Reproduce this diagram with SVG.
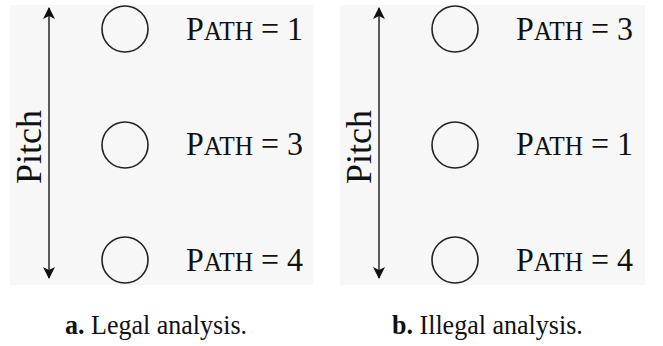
<svg xmlns="http://www.w3.org/2000/svg" width="663" height="346" viewBox="0 0 663 346">
<style>
.panel{fill:#f7f7f7;stroke:none}
.node{fill:none;stroke:#222;stroke-width:1.6}
.axis{stroke:#333;stroke-width:1.6;fill:none}
.lbl{font-family:"Liberation Serif","Times New Roman",serif;font-size:34px;fill:#111}
.sc{font-size:27px}
.pitch{font-family:"Liberation Serif","Times New Roman",serif;font-size:36px;fill:#111}
.cap{font-family:"Liberation Serif","Times New Roman",serif;font-size:28px;fill:#111}
</style>
<defs>
<marker id="ah" viewBox="0 0 12 12" refX="11" refY="6" markerWidth="12" markerHeight="12" markerUnits="userSpaceOnUse" orient="auto-start-reverse">
<path d="M0,0 L12,6 L0,12 L3,6 Z" fill="#111"/>
</marker>
</defs>
<rect width="663" height="346" fill="#fff"/>
<rect class="panel" x="10" y="5" width="303" height="280"/>
<rect class="panel" x="340" y="5" width="305" height="280"/>
<g id="connectors">
<line class="axis" x1="49" y1="8" x2="49" y2="278" marker-start="url(#ah)" marker-end="url(#ah)"/>
<line class="axis" x1="379" y1="8" x2="379" y2="278" marker-start="url(#ah)" marker-end="url(#ah)"/>
</g>
<g id="pitch-a"><text class="pitch" transform="translate(41,147) rotate(-90)" text-anchor="middle">Pitch</text></g>
<g id="pitch-b"><text class="pitch" transform="translate(371,147) rotate(-90)" text-anchor="middle">Pitch</text></g>
<g id="a1"><circle class="node" cx="125" cy="29" r="23"/><text class="lbl" transform="translate(186,40) scale(0.94,1)">P<tspan class="sc">ATH</tspan> = 1</text></g>
<g id="a2"><circle class="node" cx="125" cy="145" r="23"/><text class="lbl" transform="translate(186,155) scale(0.94,1)">P<tspan class="sc">ATH</tspan> = 3</text></g>
<g id="a3"><circle class="node" cx="125" cy="260" r="23"/><text class="lbl" transform="translate(186,271) scale(0.94,1)">P<tspan class="sc">ATH</tspan> = 4</text></g>
<g id="b1"><circle class="node" cx="455" cy="29" r="23"/><text class="lbl" transform="translate(516,40) scale(0.94,1)">P<tspan class="sc">ATH</tspan> = 3</text></g>
<g id="b2"><circle class="node" cx="455" cy="145" r="23"/><text class="lbl" transform="translate(516,155) scale(0.94,1)">P<tspan class="sc">ATH</tspan> = 1</text></g>
<g id="b3"><circle class="node" cx="455" cy="260" r="23"/><text class="lbl" transform="translate(516,271) scale(0.94,1)">P<tspan class="sc">ATH</tspan> = 4</text></g>
<g id="caption-a"><text class="cap" transform="translate(65,334) scale(0.93,1)"><tspan font-weight="bold">a.</tspan> Legal analysis.</text></g>
<g id="caption-b"><text class="cap" transform="translate(392,334) scale(0.93,1)"><tspan font-weight="bold">b.</tspan> Illegal analysis.</text></g>
</svg>
